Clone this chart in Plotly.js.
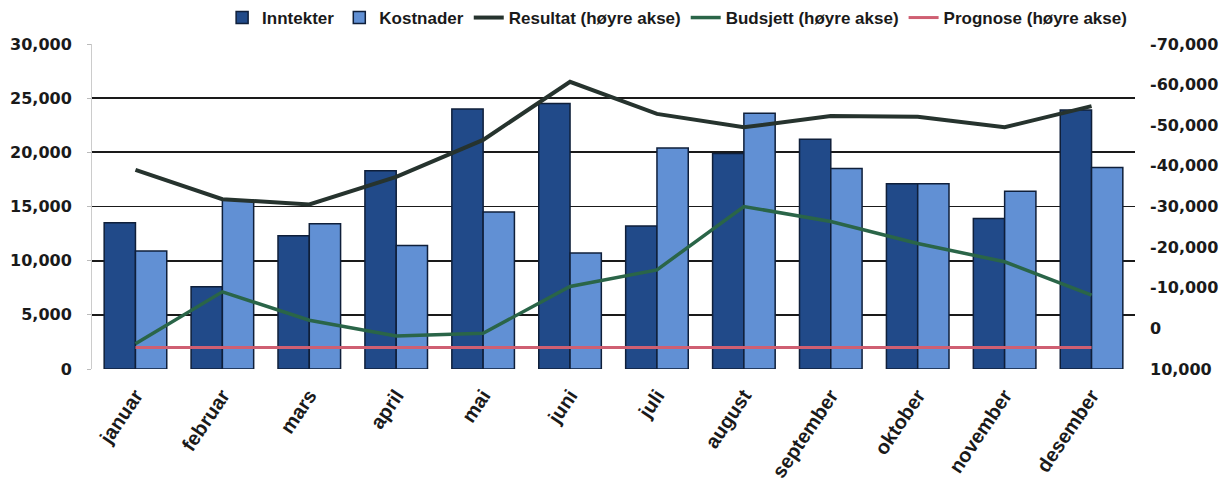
<!DOCTYPE html>
<html>
<head>
<meta charset="utf-8">
<script src="https://cdn.plot.ly/plotly-3.0.1.min.js"></script>
<style>html,body{margin:0;padding:0;background:#fff;}#chart{width:1230px;height:484px;}</style>
</head>
<body>
<div id="chart"></div>
<script>
const months = ["januar","februar","mars","april","mai","juni","juli","august","september","oktober","november","desember"];
const inntekter = [13500, 7600, 12300, 18300, 24000, 24500, 13200, 19900, 21200, 17100, 13900, 23900];
const kostnader = [10900, 15600, 13400, 11400, 14500, 10700, 20400, 23600, 18500, 17100, 16400, 18600];
const resultat = [-39000, -31800, -30500, -37300, -46400, -60700, -52800, -49500, -52300, -52100, -49500, -54700];
const budsjett = [3800, -9000, -2000, 1900, 1200, -10300, -14400, -30000, -26300, -20900, -16400, -8200];
const prognose = [4700, 4700, 4700, 4700, 4700, 4700, 4700, 4700, 4700, 4700, 4700, 4700];
const leftTicks = [0, 5000, 10000, 15000, 20000, 25000, 30000];
const rightTicks = [10000, 0, -10000, -20000, -30000, -40000, -50000, -60000, -70000];
const fmt = v => v.toLocaleString("en-US");

const yTickFont = {family: "DejaVu Sans, sans-serif", size: 16, color: "#1a1a1a", weight: "bold"};
const xTickFont = {family: "Liberation Sans, Arial, sans-serif", size: 20, color: "#1a1a1a", weight: "bold"};
const data = [
  {type: "bar", name: "Inntekter", x: months, y: inntekter,
   marker: {color: "#214a89", line: {color: "#0f1f3a", width: 1.5}}},
  {type: "bar", name: "Kostnader", x: months, y: kostnader,
   marker: {color: "#6190d4", line: {color: "#0f1f3a", width: 1.5}}},
  {type: "scatter", mode: "lines", name: "Resultat (høyre akse)", x: months, y: resultat, yaxis: "y2",
   line: {color: "#26332e", width: 4}},
  {type: "scatter", mode: "lines", name: "Budsjett (høyre akse)", x: months, y: budsjett, yaxis: "y2",
   line: {color: "#2a6548", width: 3.5}},
  {type: "scatter", mode: "lines", name: "Prognose (høyre akse)", x: months, y: prognose, yaxis: "y2",
   line: {color: "#cf5f72", width: 3}}
];
const layout = {
  width: 1230, height: 484,
  margin: {l: 92, r: 95, t: 44, b: 115},
  paper_bgcolor: "#ffffff", plot_bgcolor: "#ffffff",
  barmode: "group", bargap: 0.28, bargroupgap: 0,
  showlegend: true,
  legend: {orientation: "h", x: 0.561, xanchor: "center", yref: "container", y: 1.0, yanchor: "top",
           font: {family: "Liberation Sans, Arial, sans-serif", size: 17, color: "#1a1a1a", weight: "bold"},
           traceorder: "normal", itemwidth: 30, tracegroupgap: 0, bgcolor: "rgba(0,0,0,0)"},
  xaxis: {type: "category", tickangle: -56, tickfont: xTickFont, showgrid: false,
          showline: false, ticks: "outside", ticklen: 6, tickcolor: "rgba(0,0,0,0)", automargin: false},
  yaxis: {range: [0, 30000], tickvals: leftTicks, ticktext: leftTicks.map(fmt), tickfont: yTickFont,
          showgrid: true, gridcolor: "#1a1a1a", gridwidth: 1.8, zeroline: false,
          showline: true, linecolor: "#cccccc", linewidth: 1, ticks: "outside", ticklen: 4, tickcolor: "#bbbbbb",
          ticklabelstandoff: 12, automargin: false},
  yaxis2: {overlaying: "y", side: "right", range: [10000, -70000], tickvals: rightTicks, ticktext: rightTicks.map(fmt),
           tickfont: yTickFont, showgrid: false, zeroline: false, showline: false, automargin: false,
           ticks: "", ticklabelstandoff: 14},
  font: {family: "Liberation Sans, Arial, sans-serif"}
};
Plotly.newPlot("chart", data, layout, {staticPlot: true, displayModeBar: false});
</script>
</body>
</html>
